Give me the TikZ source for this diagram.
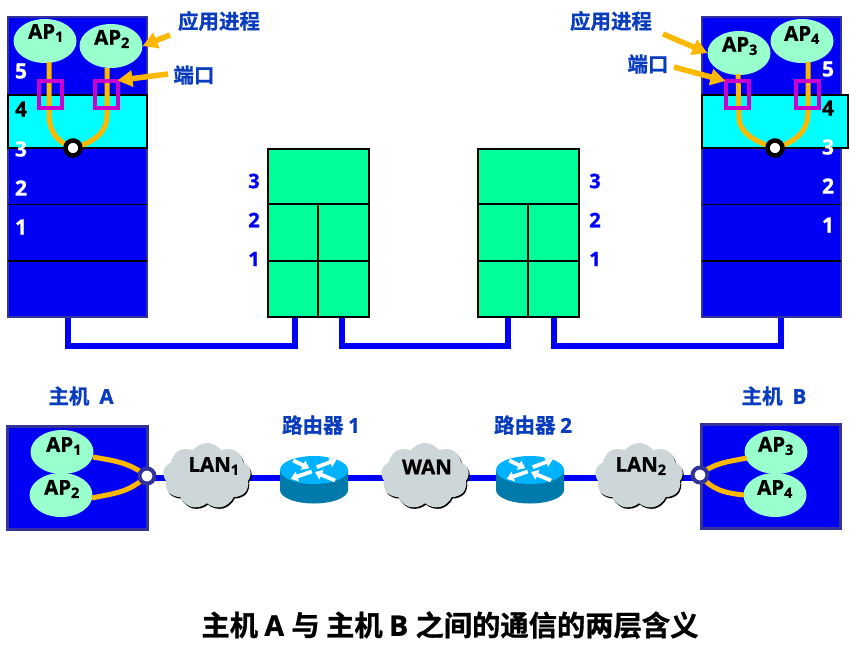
\documentclass[tikz,border=0pt]{standalone}
\usepackage{fontspec}
\setmainfont{Open Sans}[BoldFeatures={FakeBold=1}]
\newfontfamily\cjk{Noto Sans CJK SC}[BoldFont={* Bold},BoldFeatures={FakeBold=1}]
\usetikzlibrary{shapes.symbols,shapes.geometric,arrows.meta,calc,shadows}
\definecolor{stackblue}{RGB}{0,0,245}
\definecolor{frameblue}{RGB}{51,51,153}
\definecolor{labelblue}{RGB}{10,60,190}
\definecolor{apgreen}{RGB}{153,255,204}
\definecolor{tealcell}{RGB}{0,255,153}
\definecolor{layercyan}{RGB}{0,255,255}
\definecolor{orangeline}{RGB}{255,184,0}
\definecolor{portpink}{RGB}{204,0,204}
\definecolor{cloudgrey}{RGB}{205,215,218}
\definecolor{routertop}{RGB}{0,178,255}
\definecolor{routerside}{RGB}{0,122,170}
\tikzset{
  every node/.style={outer sep=0pt},
  stackbox/.style={draw=frameblue,line width=2pt,fill=stackblue,anchor=north west,inner sep=0pt},
  tealbox/.style={draw=black,line width=2pt,fill=tealcell,anchor=north west,inner sep=0pt},
  apnode/.style={ellipse,fill=apgreen,inner sep=0pt,minimum width=63pt,minimum height=44pt},
  aptext/.style={font=\bfseries\fontsize{20.5}{20.5}\selectfont},
  whitenum/.style={text=white,font=\bfseries\fontsize{21}{21}\selectfont},
  bluenum/.style={text=stackblue,font=\bfseries\fontsize{20}{20}\selectfont},
  blacknum/.style={text=black,font=\bfseries\fontsize{21}{21}\selectfont},
  bluelabel/.style={text=labelblue,font=\cjk\bfseries\fontsize{20.5}{20.5}\selectfont},
  procline/.style={draw=orangeline,line width=5pt},
  netline/.style={draw=stackblue,line width=5.5pt},
  pointer/.style={draw=orangeline,line width=5.5pt,-{Triangle[length=15pt,width=16pt]}},
  portbox/.style={draw=portpink,line width=4pt,minimum width=23pt,minimum height=27pt,inner sep=0pt},
  sap/.style={circle,draw=black,line width=4.5pt,fill=white,inner sep=0pt,minimum size=15pt},
  lap/.style={circle,draw=frameblue,line width=4pt,fill=white,inner sep=0pt,minimum size=15pt},
  cloudnode/.style={cloud,cloud puffs=9,cloud puff arc=110,aspect=1.3,fill=cloudgrey,inner sep=0pt,minimum width=88pt,minimum height=66pt,
     drop shadow={shadow xshift=1pt,shadow yshift=-1.5pt,fill=black,opacity=1}},
  routerarrow/.style={draw=white,line width=3.8pt,-{Triangle[length=7pt,width=10pt]}},
}
\newcommand{\routerdraw}[2]{%
  \fill[routerside] (#1-34,#2) -- (#1-34,#2+20) arc[x radius=34,y radius=13.5,start angle=180,end angle=0] -- (#1+34,#2) -- cycle;
  \fill[routertop] (#1,#2) ellipse[x radius=34,y radius=14];
  \begin{scope}[shift={(#1,#2)}]
    \draw[routerarrow] (-20.7,-9.5) -- (-4.7,-1.8);
    \draw[routerarrow] (2.7,-2.8) -- (22.7,-10.5);
    \draw[routerarrow] (-2.3,1.5) -- (-23.3,8.8);
    \draw[routerarrow] (21,10.5) -- (1,2);
  \end{scope}}
\begin{document}
\begin{tikzpicture}[x=1pt,y=-1pt]
\useasboundingbox (0,0) rectangle (850,649);
\node[stackbox,minimum width=139pt,minimum height=300pt] (hostA) at (8,17) {};
\node[stackbox,minimum width=139pt,minimum height=300pt] (hostB) at (702,17) {};
\fill[layercyan] (8,95) rectangle (147,148);
\draw[black,line width=2.8pt] (8,95) rectangle (147,148);
\fill[layercyan] (702,95) rectangle (848,148);
\draw[black,line width=2.8pt] (702,95) rectangle (848,148);
\foreach \y in {204.5,261}{
  \draw[black,line width=1.6pt] (8,\y) -- (147,\y);
  \draw[black,line width=1.6pt] (702,\y) -- (841,\y);
}
\node[whitenum] (a5) at (21,71) {5};
\node[blacknum] (a4) at (21,109) {4};
\node[whitenum] (a3) at (21,149) {3};
\node[whitenum] (a2) at (21,188) {2};
\node[whitenum] (a1) at (21,227) {1};
\node[whitenum] (b5) at (828,69) {5};
\node[blacknum] (b4) at (828,108) {4};
\node[whitenum] (b3) at (828,147) {3};
\node[whitenum] (b2) at (828,186) {2};
\node[whitenum] (b1) at (828,225) {1};
% top ellipses
\node[apnode] (ap1) at (45,41) {};
\node[apnode] (ap2) at (111,46) {};
\node[apnode] (ap3) at (739,53) {};
\node[apnode] (ap4) at (802,41) {};
\node[aptext] (ap1t) at (46,33) {AP\textsubscript{1}};
\node[aptext] (ap2t) at (112,39) {AP\textsubscript{2}};
\node[aptext] (ap3t) at (740,46) {AP\textsubscript{3}};
\node[aptext] (ap4t) at (802,35) {AP\textsubscript{4}};
\coordinate (sockA) at (73,148);
\coordinate (sockB) at (775,148);
\draw[procline] (49,62) -- (49,112) .. controls (49,132) and (56,141) .. (sockA);
\draw[procline] (107,68) -- (107,115) .. controls (107,132) and (95,142) .. (sockA);
\draw[procline] (738,74) -- (739,118) .. controls (739,132) and (755,142) .. (sockB);
\draw[procline] (808,62) -- (808,112) .. controls (808,132) and (795,142) .. (sockB);
\node[portbox] (pa1) at (50,94) {};
\node[portbox] (pa2) at (106,94) {};
\node[portbox] (pb1) at (737,94.5) {};
\node[portbox] (pb2) at (807,94.5) {};
\node[sap] (sa) at (sockA) {};
\node[sap] (sb) at (sockB) {};
\draw[pointer] (170,35) -- (ap2.east);
\draw[pointer] (168,74) -- (pa2.north east);
\draw[pointer] (663,34) -- (ap3.west);
\draw[pointer] (674,67) -- (pb1.north west);
\node[bluelabel] (l1) at (219,21) {应用进程};
\node[bluelabel] (l2) at (194,75) {端口};
\node[bluelabel] (l3) at (611,21) {应用进程};
\node[bluelabel] (l4) at (648,64) {端口};
% middle routers
\node[tealbox,minimum width=101pt,minimum height=168pt] (r1) at (268,149) {};
\node[tealbox,minimum width=101pt,minimum height=168pt] (r2) at (478,149) {};
\draw[black,line width=1.8pt] (268,204) -- (369,204) (268,261) -- (369,261) (318,204) -- (318,317);
\draw[black,line width=1.8pt] (478,204) -- (579,204) (478,261) -- (579,261) (528,204) -- (528,317);
\node[bluenum] (m3) at (254,181) {3};
\node[bluenum] (m2) at (254,220) {2};
\node[bluenum] (m1) at (254,259) {1};
\node[bluenum] (n3) at (595,181) {3};
\node[bluenum] (n2) at (595,220) {2};
\node[bluenum] (n1) at (595,259) {1};
% network lines top
\coordinate (ha) at (68,318);
\coordinate (ra) at (295,318);
\coordinate (rb) at (342,318);
\coordinate (rc) at (508,318);
\coordinate (rd) at (554,318);
\coordinate (hb) at (781,318);
\draw[netline] (ha) -- (68,346) -- (295,346) -- (ra);
\draw[netline] (rb) -- (342,346) -- (508,346) -- (rc);
\draw[netline] (rd) -- (554,346) -- (781,346) -- (hb);
% bottom row
\node[stackbox,minimum width=140pt,minimum height=103pt,line width=3pt] (boxA) at (7,426) {};
\node[stackbox,minimum width=139pt,minimum height=104pt,line width=3pt] (boxB) at (701,424) {};
\node[bluelabel] (ha1) at (81,396) {主机\ \rmfamily\bfseries\ A};
\node[bluelabel] (hb1) at (774,396) {主机\ \rmfamily\bfseries\ B};
\node[bluelabel] (r1l) at (321,425) {路由器\ \rmfamily\bfseries 1};
\node[bluelabel] (r2l) at (533,425) {路由器\ \rmfamily\bfseries 2};
\draw[netline] (147,478) -- (700,478);
\node[cloudnode] (lan1) at (207,476) {};
\node[cloudnode] (wan) at (425,476) {};
\node[cloudnode] (lan2) at (639,476) {};
\node[aptext] (lan1t) at (214,466) {LAN\textsubscript{1}};
\node[aptext] (want) at (427,467) {WAN};
\node[aptext] (lan2t) at (641,466) {LAN\textsubscript{2}};
\routerdraw{314}{470}
\routerdraw{530}{470}
\node[apnode] (la1) at (62,452) {};
\node[apnode] (la2) at (61,495) {};
\node[apnode] (lb3) at (776,452) {};
\node[apnode] (lb4) at (775,495) {};
\node[aptext] (la1t) at (64,446) {AP\textsubscript{1}};
\node[aptext] (la2t) at (62,489) {AP\textsubscript{2}};
\node[aptext] (lb3t) at (776,446) {AP\textsubscript{3}};
\node[aptext] (lb4t) at (775,489) {AP\textsubscript{4}};
\coordinate (sockC) at (147,476);
\coordinate (sockD) at (700,475);
\draw[procline] (93,457) .. controls (115,461) and (128,462) .. (sockC);
\draw[procline] (92,498) .. controls (115,493) and (128,493) .. (sockC);
\draw[procline] (747,458) .. controls (725,462) and (712,464) .. (sockD);
\draw[procline] (744,495) .. controls (725,493) and (712,490) .. (sockD);
\node[lap] (sc) at (sockC) {};
\node[lap] (sd) at (sockD) {};
\node[text=black,font=\cjk\bfseries\fontsize{28.3}{28.3}\selectfont] (title) at (450,625) {主机 \rmfamily\bfseries A \cjk 与 主机 \rmfamily\bfseries B \cjk 之间的通信的两层含义};
\end{tikzpicture}
\end{document}
